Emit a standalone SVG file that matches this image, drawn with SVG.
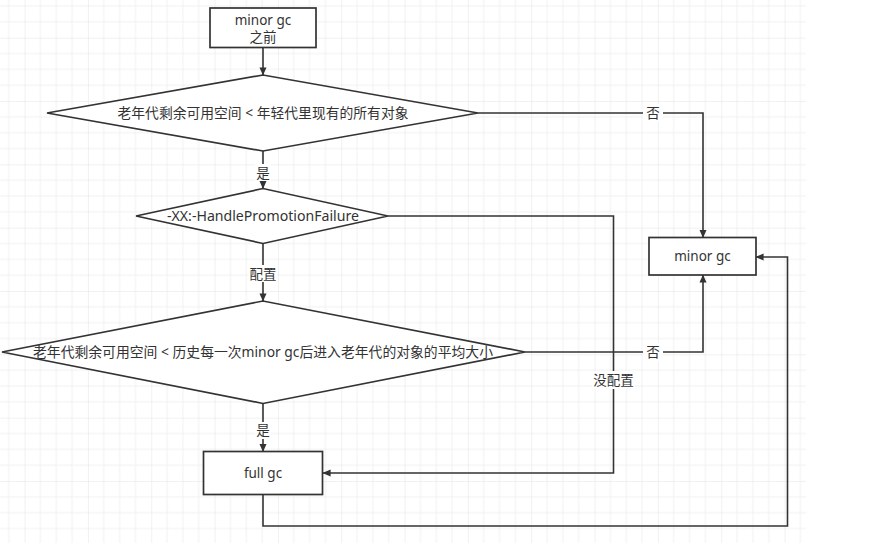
<svg xmlns="http://www.w3.org/2000/svg" width="874" height="555" viewBox="0 0 874 555">
<defs>
<pattern id="grid" x="24.6" y="37.7" width="63.33" height="63.33" patternUnits="userSpaceOnUse">
<path d="M15.83,0 V63.33 M31.67,0 V63.33 M47.5,0 V63.33 M0,15.83 H63.33 M0,31.67 H63.33 M0,47.5 H63.33" stroke="#f1f1f1" stroke-width="1" fill="none"/>
<path d="M0,0 V63.33 M0,0 H63.33" stroke="#e3e3e3" stroke-width="1" fill="none"/>
</pattern>
<marker id="arr" viewBox="0 0 10 10" refX="9.5" refY="5" markerWidth="8" markerHeight="8" markerUnits="userSpaceOnUse" orient="auto">
<path d="M0,0.6 L10,5 L0,9.4 z" fill="#333"/>
</marker>
</defs>
<style>
.n{fill:#fff;stroke:#333;stroke-width:1.7}
.e{fill:none;stroke:#333;stroke-width:1.6;marker-end:url(#arr)}
.t{font-family:"Noto Sans","Noto Sans CJK SC",sans-serif;font-size:13.5px;fill:#333;text-anchor:middle}
.lb{fill:#fff}
</style>
<rect width="874" height="555" fill="#fff"/>
<rect x="0" y="0" width="806" height="543" fill="url(#grid)"/>
<g id="connectors">
<path class="e" d="M263,47.5 V75"/>
<path class="e" d="M478,113 H703 V237.5"/>
<path class="e" d="M263,151 V188.5"/>
<path class="e" d="M388,216 H613.5 V473 H323"/>
<path class="e" d="M263,243.5 V301"/>
<path class="e" d="M525,352 H703 V275"/>
<path class="e" d="M263,403.5 V451.5"/>
<path class="e" d="M263,494.5 V526 H787.5 V257 H756"/>
<rect class="lb" x="643" y="104" width="20" height="18"/>
<text class="t" x="653" y="118">否</text>
<rect class="lb" x="255" y="164" width="16" height="17"/>
<text class="t" x="263" y="177.5">是</text>
<rect class="lb" x="249" y="265" width="28" height="17"/>
<text class="t" x="263" y="278.5">配置</text>
<rect class="lb" x="643" y="343" width="20" height="18"/>
<text class="t" x="653" y="357">否</text>
<rect class="lb" x="592" y="371" width="43" height="18"/>
<text class="t" x="613.5" y="385">没配置</text>
<rect class="lb" x="255" y="422" width="16" height="17"/>
<text class="t" x="263" y="435">是</text>
</g>
<g id="start">
<rect class="n" x="210" y="8" width="106" height="39.5"/>
<text class="t" x="263" y="24.5">minor gc</text>
<text class="t" x="263" y="41.5">之前</text>
</g>
<g id="cond1">
<polygon class="n" points="47,113 263,75 478,113 263,151"/>
<text class="t" x="263" y="118" textLength="291" lengthAdjust="spacingAndGlyphs">老年代剩余可用空间 &lt; 年轻代里现有的所有对象</text>
</g>
<g id="cond2">
<polygon class="n" points="136,216 263,188.5 388,216 263,243.5"/>
<text class="t" x="263" y="221" textLength="192" lengthAdjust="spacingAndGlyphs">-XX:-HandlePromotionFailure</text>
</g>
<g id="cond3">
<polygon class="n" points="2,352 263,301 525,352 263,403.5"/>
<text class="t" x="263" y="357" textLength="460" lengthAdjust="spacingAndGlyphs">老年代剩余可用空间 &lt; 历史每一次minor gc后进入老年代的对象的平均大小</text>
</g>
<g id="minorgc">
<rect class="n" x="649" y="237.5" width="107" height="37.5"/>
<text class="t" x="702.5" y="261">minor gc</text>
</g>
<g id="fullgc">
<rect class="n" x="203.5" y="451.5" width="119" height="43"/>
<text class="t" x="263" y="477.5">full gc</text>
</g>
</svg>
